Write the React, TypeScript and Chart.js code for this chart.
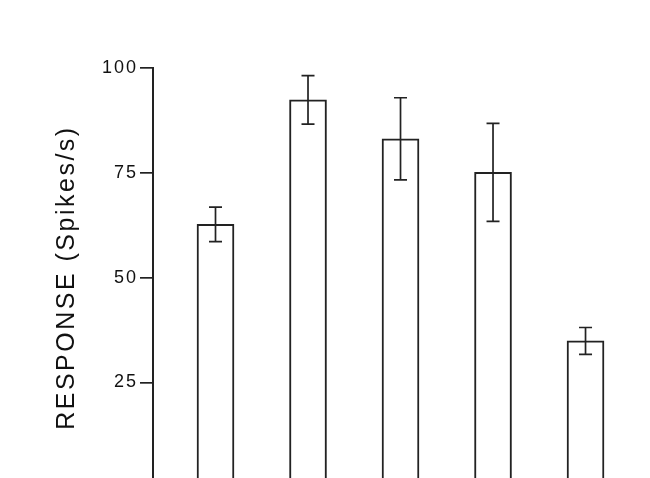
import React, { useEffect, useRef } from 'react';
import { Chart, registerables } from 'chart.js';

Chart.register(...registerables);

const categories = ['1', '2', '3', '4', '5'];
const positions = [1, 2, 3, 4, 5];
const responses = [62.7, 92.4, 83.1, 75.1, 34.9];
const errors = [4.1, 5.8, 9.8, 11.7, 3.2];
const yTicks = [25, 50, 75, 100];
const yTitle = 'RESPONSE (Spikes/s)';

const INK = '#222222';

const errorBarPlugin = {
  id: 'errorBars',
  afterDatasetsDraw(chart: any) {
    const { ctx, scales } = chart;
    const xs = scales.x;
    const ys = scales.y;
    ctx.save();
    ctx.strokeStyle = INK;
    ctx.lineWidth = 1.7;
    positions.forEach((p, i) => {
      const x = xs.getPixelForValue(p);
      const yHi = ys.getPixelForValue(responses[i] + errors[i]);
      const yLo = ys.getPixelForValue(responses[i] - errors[i]);
      const cap = 6.5;
      ctx.beginPath();
      ctx.moveTo(x, yHi);
      ctx.lineTo(x, yLo);
      ctx.moveTo(x - cap, yHi);
      ctx.lineTo(x + cap, yHi);
      ctx.moveTo(x - cap, yLo);
      ctx.lineTo(x + cap, yLo);
      ctx.stroke();
    });
    ctx.restore();
  },
};

const textStylePlugin = {
  id: 'textStyle',
  beforeDraw(chart: any) {
    (chart.ctx as any).letterSpacing = '2px';
  },
  afterDraw(chart: any) {
    const { ctx, chartArea } = chart;
    ctx.save();
    (ctx as any).letterSpacing = '2.5px';
    ctx.translate(67, (chartArea.top + chartArea.bottom) / 2);
    ctx.rotate(-Math.PI / 2);
    ctx.font = '25px "Liberation Sans", Arial, sans-serif';
    ctx.fillStyle = '#111111';
    ctx.textAlign = 'center';
    ctx.textBaseline = 'middle';
    ctx.fillText(yTitle, 0, 0);
    ctx.restore();
    (ctx as any).letterSpacing = '0px';
  },
};

export default function App() {
  const ref = useRef<HTMLCanvasElement | null>(null);

  useEffect(() => {
    if (!ref.current) return;
    const chart = new Chart(ref.current, {
      type: 'bar',
      data: {
        labels: categories,
        datasets: [
          {
            data: positions.map((p, i) => ({ x: p, y: responses[i] })),
            backgroundColor: '#ffffff',
            borderColor: INK,
            borderWidth: 2,
            borderSkipped: 'bottom',
            barThickness: 37,
          },
        ],
      },
      options: {
        animation: false,
        responsive: false,
        devicePixelRatio: 1,
        layout: { padding: { left: 43, right: 0, top: 68, bottom: 7 } },
        plugins: { legend: { display: false }, tooltip: { enabled: false } },
        scales: {
          x: {
            type: 'linear',
            display: false,
            offset: false,
            min: 0.3243,
            max: 5.697,
          },
          y: {
            type: 'linear',
            min: 0,
            max: 100,
            afterBuildTicks: (scale: any) => {
              scale.ticks = yTicks.map((v) => ({ value: v }));
            },
            afterFit: (scale: any) => {
              scale.width = 110;
            },
            grid: {
              display: true,
              drawOnChartArea: false,
              drawTicks: true,
              tickLength: 13,
              color: INK,
              lineWidth: 1.7,
            },
            border: { display: true, color: INK, width: 2 },
            ticks: {
              padding: 2,
              color: '#111111',
              font: { family: '"Liberation Sans", Arial, sans-serif', size: 18 },
            },
          },
        },
      },
      plugins: [errorBarPlugin, textStylePlugin],
    });
    return () => chart.destroy();
  }, []);

  return (
    <div style={{ position: 'absolute', left: 0, top: 0, width: 650, height: 500, background: '#fff' }}>
      <canvas ref={ref} width={650} height={500} />
    </div>
  );
}
